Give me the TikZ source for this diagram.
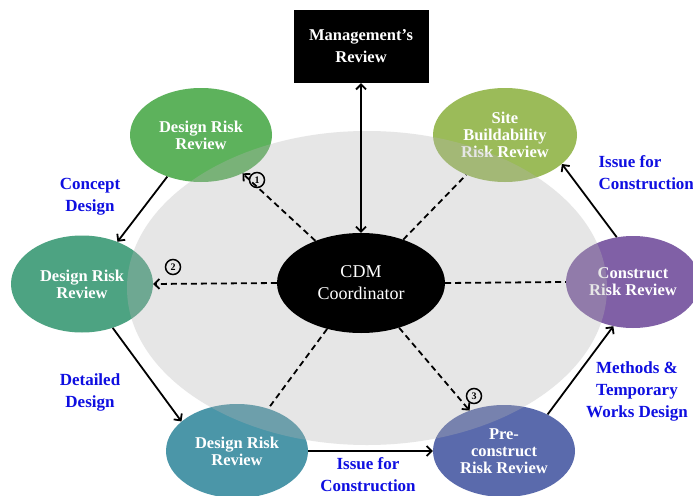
\documentclass[tikz,border=0pt]{standalone}
\usepackage{fontspec}
\setmainfont{Liberation Serif}
\usetikzlibrary{shapes.geometric,arrows.meta}
\definecolor{designgreen}{RGB}{93,178,92}
\definecolor{sitegreen}{RGB}{155,187,89}
\definecolor{conceptteal}{RGB}{77,163,130}
\definecolor{detailteal}{RGB}{75,150,168}
\definecolor{preblue}{RGB}{90,106,172}
\definecolor{constructpurple}{RGB}{128,96,166}
\definecolor{stageblue}{RGB}{15,15,225}
\definecolor{zonegray}{RGB}{180,180,180}

\begin{document}
\begin{tikzpicture}[x=1pt,y=-1pt,>={Straight Barb[length=5pt,width=10pt]},
    review/.style={ellipse,inner sep=0pt,minimum width=142pt,minimum height=94pt,
      align=center,text=white,font=\fontsize{16.5}{17}\selectfont\bfseries},
    stage/.style={align=center,text=stageblue,font=\fontsize{17}{22}\selectfont\bfseries},
    flow/.style={->,line width=1.8pt},
    link/.style={line width=1.8pt,dash pattern=on 6pt off 4pt},
    tag/.style={circle,draw,line width=1.5pt,inner sep=0pt,minimum size=15pt,
      font=\fontsize{10}{10}\selectfont\bfseries}]
  \useasboundingbox (0,0) rectangle (693,495);
  \clip (0,0) rectangle (693,495);
  \fill[white] (0,0) rectangle (693,495);

  % review stages round the coordinator
  \node[review,fill=designgreen] (dt) at (201,135) {Design Risk\\Review};
  \node[review,fill=sitegreen,minimum width=144pt] (sb) at (505,135) {Site\\Buildability\\Risk Review};
  \node[review,fill=conceptteal,minimum height=97pt] (dl) at (82,284) {Design Risk\\Review};
  \node[review,fill=constructpurple,minimum width=134pt,minimum height=92pt] (cr) at (633,282) {Construct\\Risk Review};
  \node[review,fill=detailteal] (db) at (237,451) {Design Risk\\Review};
  \node[review,fill=preblue,minimum height=92pt] (pc) at (504,451) {Pre-\\construct\\Risk Review};

  \fill[zonegray,fill opacity=0.33] (367,288) ellipse [x radius=240,y radius=157];

  \node[ellipse,fill=black,text=white,minimum width=168pt,minimum height=100pt,inner sep=0pt,
        align=center,font=\fontsize{18}{22}\selectfont] (cdm) at (361,283) {CDM\\Coordinator};
  \node[fill=black,text=white,minimum width=135pt,minimum height=73pt,inner sep=0pt,
        align=center,font=\fontsize{16.5}{22}\selectfont\bfseries] (mgmt) at (361,46.5) {Management's\\Review};

  \draw[flow,<->] (mgmt) -- (cdm);

  \draw[link,->] (cdm) -- (dt);
  \draw[link,->] (cdm.west) -- (dl.east);
  \draw[link,->] (cdm) -- (pc);
  \draw[link] (cdm) -- (sb);
  \draw[link] (cdm.east) -- (cr.west);
  \draw[link] (cdm) -- (db);

  \node[tag] (t1) at (257,180) {1};
  \node[tag] (t2) at (173,267) {2};
  \node[tag] (t3) at (474,396) {3};

  \draw[flow] (dt.231) -- (dl.50);
  \draw[flow] (dl.-55) -- (db.152);
  \draw[flow] (db.east) -- (pc.west);
  \draw[flow] (pc.40) -- (cr.246);
  \draw[flow] (cr.110) -- (sb.-27);

  \node[stage] (concept) at (90,197) {Concept\\Design};
  \node[stage] (detailed) at (90,392) {Detailed\\Design};
  \node[stage] (issuelow) at (368,475) {Issue for\\Construction};
  \node[stage] (methods) at (637,391) {Methods \&\\Temporary\\Works Design};
  \node[stage,align=left,anchor=west] (issuehigh) at (595,173) {Issue for\\Construction};
\end{tikzpicture}
\end{document}
